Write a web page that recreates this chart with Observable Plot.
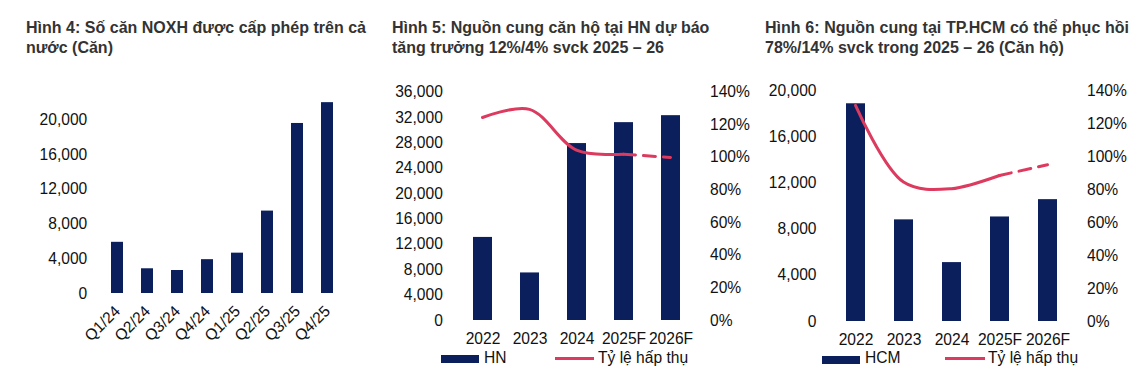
<!DOCTYPE html>
<html><head><meta charset="utf-8">
<script src="https://cdn.jsdelivr.net/npm/d3@7"></script>
<script src="https://cdn.jsdelivr.net/npm/@observablehq/plot@0.6"></script>
<style>
body{margin:0;background:#fff;}
#root{position:relative;width:1137px;height:383px;overflow:hidden;background:#fff;font-family:"Liberation Sans",Arial,sans-serif;}
.title{position:absolute;top:18px;font-weight:bold;font-size:16px;line-height:20px;color:#333;white-space:nowrap;}
.title span{display:block;white-space:nowrap;}
.layer{position:absolute;top:80px;}
.layer svg{overflow:visible;}
.lg{position:absolute;font-size:15.6px;line-height:18px;color:#111;white-space:nowrap;}
.sw{position:absolute;}
</style></head>
<body><div id="root"></div>
<script>
// ---- data ----
const quarters = ["Q1/24","Q2/24","Q3/24","Q4/24","Q1/25","Q2/25","Q3/25","Q4/25"];
const permits = [5900, 2850, 2650, 3900, 4650, 9500, 19600, 22000];
const years = ["2022","2023","2024","2025F","2026F"];
const hnSupply = [13100, 7500, 27900, 31200, 32300];
const hnAbsorption = [124.5, 129.5, 104.5, 102, 100];
const hcmSupply = [18850, 8800, 5100, 9050, 10550];
const hcmAbsorption = [131, 84.5, 80.5, 88.5, 95];
const ticks1 = [0, 4000, 8000, 12000, 16000, 20000];
const ticks2 = [0, 4000, 8000, 12000, 16000, 20000, 24000, 28000, 32000, 36000];
const ticks3 = [0, 4000, 8000, 12000, 16000, 20000];
const pctTicks = [0, 20, 40, 60, 80, 100, 120, 140];
const titles = [
  ["Hình 4: Số căn NOXH được cấp phép trên cả", "nước (Căn)"],
  ["Hình 5: Nguồn cung căn hộ tại HN dự báo", "tăng trưởng 12%/4% svck 2025 – 26"],
  ["Hình 6: Nguồn cung tại TP.HCM có thể phục hồi", "78%/14% svck trong 2025 – 26 (Căn hộ)"]
];
const seriesNames = ["HN", "HCM"];
const lineName = "Tỷ lệ hấp thụ";

// ---- style ----
const NAVY = "#0b1f5c";
const RED = "#dc3a5e";
const FONT = '"Liberation Sans", Arial, sans-serif';
const root = document.getElementById("root");
const fmt = d3.format(",");
const baseStyle = {fontFamily: FONT, fontSize: "15.6px", color: "#111", background: "transparent", overflow: "visible"};

function place(el, left) { el.classList.add("layer"); el.style.left = left + "px"; root.appendChild(el); }

// titles (first line justified to the column width, as in the report)
[[26, 340], [392, 317], [765, 364]].forEach(([x, w], i) => {
  const t = document.createElement("div");
  t.className = "title"; t.style.left = x + "px";
  const a = document.createElement("span"); a.textContent = titles[i][0];
  const b = document.createElement("span"); b.textContent = titles[i][1];
  t.appendChild(a); t.appendChild(b);
  root.appendChild(t);
  a.style.display = "inline-block";
  const natural = a.getBoundingClientRect().width;
  const gaps = (titles[i][0].match(/ /g) || []).length;
  if (gaps && natural < w) a.style.wordSpacing = ((w - natural) / gaps) + "px";
  a.style.display = "block";
});

// Panel 1
const t1 = quarters.map((q, i) => ({q, v: permits[i]}));
place(Plot.plot({
  width: 370, height: 280, marginLeft: 91.8, marginRight: 16.8, marginTop: 4.8, marginBottom: 67,
  style: baseStyle,
  x: {domain: quarters, padding: 0.6, axis: null},
  y: {domain: [0, 24000], axis: null},
  marks: [
    Plot.barY(t1, {x: "q", y: "v", fill: NAVY}),
    Plot.axisY({ticks: ticks1, tickSize: 0, tickPadding: 5, tickFormat: fmt, label: null}),
    Plot.axisX({tickSize: 0, tickPadding: 15, tickRotate: -45, label: null})
  ]
}), 0);

// Panels 2 & 3
function comboPanel(left, supply, absorption, yMax, yTicks, m) {
  const rows = years.map((y, i) => ({y, v: supply[i], p: absorption[i]}));
  const common = {width: 390, height: 270, marginLeft: m.l, marginRight: 390 - m.r, marginTop: m.t, marginBottom: m.b, style: baseStyle};
  place(Plot.plot({
    ...common,
    x: {domain: years, padding: 0.6, axis: null},
    y: {domain: [0, yMax], axis: null},
    marks: [
      Plot.barY(rows, {x: "y", y: "v", fill: NAVY}),
      Plot.axisY({ticks: yTicks, tickSize: 0, tickPadding: 0, tickFormat: fmt, label: null}),
      Plot.axisX({tickSize: 0, tickPadding: 12, label: null})
    ]
  }), left);
  place(Plot.plot({
    ...common,
    x: {type: "point", domain: years, padding: 0.8, axis: null},
    y: {domain: [0, 140], axis: null},
    marks: [
      Plot.line(rows.slice(0, 4), {x: "y", y: "p", stroke: RED, strokeWidth: 3, curve: "catmull-rom"}),
      Plot.line(rows.slice(3), {x: "y", y: "p", stroke: RED, strokeWidth: 3, strokeDasharray: "12,8"}),
      Plot.axisY({anchor: "right", ticks: pctTicks, tickSize: 0, tickPadding: 0, tickFormat: d => d + "%", label: null})
    ]
  }), left);
}
comboPanel(370, hnSupply, hnAbsorption, 36000, ticks2, {l: 72.4, r: 339.5, t: 11.7, b: 30});
comboPanel(750, hcmSupply, hcmAbsorption, 20000, ticks3, {l: 66, r: 336.5, t: 10, b: 29});

// legends
function legend(swX, swW, swTop, swH, name, nameX, lnX, lnW, lnY, txtX) {
  const s = document.createElement("div"); s.className = "sw";
  Object.assign(s.style, {left: swX + "px", top: swTop + "px", width: swW + "px", height: swH + "px", background: NAVY});
  root.appendChild(s);
  const a = document.createElement("div"); a.className = "lg"; a.textContent = name;
  Object.assign(a.style, {left: nameX + "px", top: "349px"}); root.appendChild(a);
  const l = document.createElement("div"); l.className = "sw";
  Object.assign(l.style, {left: lnX + "px", top: (lnY - 1.5) + "px", width: lnW + "px", height: "3px", background: RED});
  root.appendChild(l);
  const b = document.createElement("div"); b.className = "lg"; b.textContent = lineName;
  Object.assign(b.style, {left: txtX + "px", top: "349px"}); root.appendChild(b);
}
legend(441, 38, 355, 8, seriesNames[0], 484, 555, 39, 358.5, 598);
legend(822, 38, 356, 7.5, seriesNames[1], 865, 945, 40, 358.5, 988);
</script>
</body></html>
